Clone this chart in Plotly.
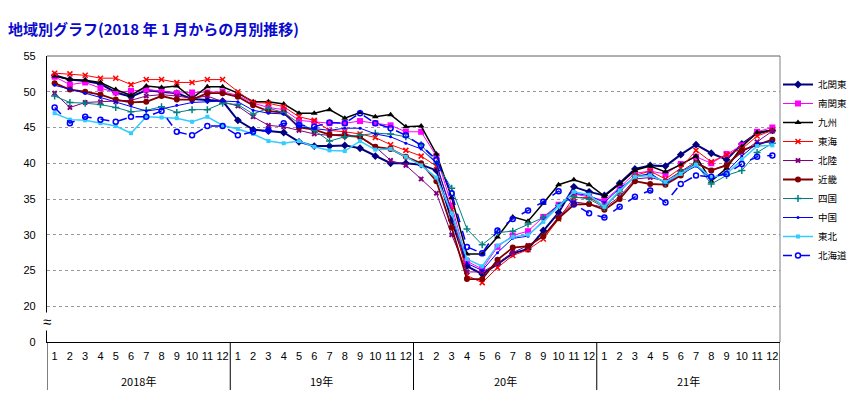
import plotly.graph_objects as go

months = [str(m) for m in range(1, 13)] * 4
year_labels = ["2018年", "19年", "20年", "21年"]
y_ticks = [15, 20, 25, 30, 35, 40, 45, 50, 55]
y_ticktext = ["0", "20", "25", "30", "35", "40", "45", "50", "55"]

kita_kanto = [52.3, 51.7, 51.5, 51.1, 49.9, 49.3, 50.2, 50.0, 49.8, 49.0, 48.8, 48.7,
              46.0, 44.7, 44.5, 44.3, 43.0, 42.4, 42.4, 42.5, 42.1, 41.0, 40.0, 40.0,
              39.8, 39.0, 32.0, 25.6, 24.5, 25.9, 27.4, 28.0, 30.6, 33.1, 36.7, 36.0,
              35.5, 37.2, 39.2, 39.7, 39.6, 41.2, 42.6, 41.4, 40.5, 42.7, 44.2, 44.6]
minami_kanto = [52.1, 51.0, 51.3, 50.5, 49.9, 50.1, 50.3, 50.1, 49.8, 49.9, 49.9, 50.0,
                49.5, 48.4, 47.8, 47.5, 46.0, 45.8, 45.6, 45.6, 45.9, 45.6, 45.3, 44.4,
                44.4, 41.0, 34.1, 26.3, 25.2, 28.3, 29.9, 30.5, 32.5, 34.2, 35.7, 35.3,
                34.8, 36.6, 38.6, 38.9, 38.5, 39.9, 40.9, 40.0, 41.3, 42.5, 44.4, 45.0]
kyushu = [52.2, 51.7, 51.6, 51.3, 50.3, 49.5, 50.8, 50.6, 50.8, 49.1, 50.7, 50.7,
          49.8, 48.6, 48.6, 48.3, 47.0, 47.0, 47.5, 46.3, 47.1, 46.5, 46.8, 45.1,
          45.2, 41.3, 35.2, 27.3, 27.3, 29.7, 32.5, 31.9, 34.4, 37.0, 37.7, 37.0,
          35.4, 37.1, 39.0, 39.6, 38.8, 39.8, 41.0, 37.5, 39.3, 42.3, 44.3, 44.6]
tokai = [52.6, 52.5, 52.3, 51.9, 51.9, 51.0, 51.7, 51.7, 51.3, 51.3, 51.7, 51.7,
         50.0, 48.5, 48.4, 47.9, 46.5, 46.0, 44.6, 44.4, 44.1, 43.6, 42.6, 41.8,
         41.0, 39.6, 33.5, 24.3, 23.3, 25.4, 27.1, 27.9, 29.4, 32.2, 35.2, 35.2,
         34.0, 36.0, 38.3, 38.9, 37.8, 39.3, 41.8, 40.2, 41.2, 42.0, 43.8, 44.6]
hokuriku = [49.8, 47.8, 48.5, 48.6, 48.6, 48.8, 49.4, 49.6, 49.4, 49.1, 49.4, 48.6,
            48.0, 46.5, 45.3, 45.1, 44.6, 44.1, 43.9, 44.1, 43.6, 42.3, 40.4, 39.7,
            37.8, 35.8, 30.0, 24.8, 24.8, 26.0, 27.5, 28.5, 29.8, 32.5, 34.6, 34.3,
            33.8, 35.3, 37.8, 38.0, 37.5, 38.8, 40.2, 39.0, 39.8, 41.5, 43.0, 44.5]
kinki = [51.2, 50.3, 50.0, 49.6, 48.9, 48.5, 48.6, 49.4, 48.9, 48.9, 49.8, 49.8,
         49.3, 48.1, 47.3, 47.1, 45.0, 44.7, 44.0, 43.8, 43.7, 42.3, 42.0, 40.9,
         40.0, 37.5, 31.0, 23.8, 23.8, 26.5, 28.2, 28.4, 29.8, 32.3, 34.2, 34.3,
         33.5, 35.0, 37.5, 37.1, 37.0, 38.3, 40.0, 39.0, 39.7, 41.8, 42.6, 43.3]
shikoku = [49.4, 48.5, 48.4, 48.2, 47.8, 47.2, 47.4, 47.9, 47.1, 47.5, 47.5, 48.4,
           48.2, 46.9, 47.7, 47.1, 45.6, 44.6, 43.1, 43.7, 43.9, 44.2, 44.1, 43.7,
           42.6, 40.0, 36.5, 30.8, 28.6, 30.3, 30.5, 31.5, 32.4, 34.1, 35.3, 35.0,
           33.8, 36.0, 38.2, 38.5, 37.2, 38.8, 39.9, 37.1, 38.3, 39.0, 41.5, 42.8]
chugoku = [50.9, 50.4, 49.8, 49.2, 48.6, 48.0, 47.3, 47.6, 48.1, 48.5, 48.6, 48.7,
           48.6, 47.4, 47.0, 46.9, 45.1, 44.9, 44.6, 44.9, 44.9, 44.1, 43.7, 42.8,
           42.0, 40.0, 33.0, 26.0, 25.0, 27.5, 29.5, 29.8, 32.0, 34.2, 35.8, 35.5,
           34.5, 36.5, 38.0, 38.6, 37.2, 38.5, 39.6, 37.8, 38.8, 41.0, 42.8, 43.0]
tohoku = [47.0, 46.1, 46.0, 45.6, 45.2, 44.2, 46.5, 46.4, 46.3, 45.8, 46.5, 45.3,
          44.8, 44.1, 43.1, 42.8, 43.1, 42.3, 41.8, 41.7, 43.1, 41.9, 42.0, 40.9,
          39.7, 38.0, 33.0, 26.6, 25.6, 28.5, 29.7, 30.0, 31.8, 34.0, 36.0, 35.6,
          33.9, 36.2, 38.1, 38.3, 37.4, 38.5, 39.8, 38.0, 38.5, 40.5, 42.4, 42.5]
hokkaido = [47.8, 45.6, 46.5, 46.1, 45.8, 46.5, 46.5, 47.3, 44.4, 43.9, 45.2, 45.2,
            43.9, 44.4, 44.6, 45.6, 45.3, 45.1, 45.7, 45.6, 47.0, 45.6, 44.9, 43.9,
            42.5, 40.5, 35.8, 28.3, 27.4, 30.6, 32.2, 33.4, 34.6, 36.1, 34.3, 33.0,
            32.4, 33.9, 35.3, 36.2, 34.5, 37.1, 38.3, 38.1, 38.5, 39.9, 40.9, 41.1]

x = list(range(1, len(months) + 1))

styles = [
    ("北関東", kita_kanto, "#000080", 2, "solid", "diamond", 6),
    ("南関東", minami_kanto, "#FF00FF", 1, "solid", "square", 6),
    ("九州", kyushu, "#000000", 1.5, "solid", "triangle-up", 6),
    ("東海", tokai, "#FF0000", 1, "solid", "x-thin", 5),
    ("北陸", hokuriku, "#800080", 1, "solid", "x", 5),
    ("近畿", kinki, "#800000", 1.8, "solid", "circle", 6),
    ("四国", shikoku, "#008080", 1, "solid", "cross-thin", 5),
    ("中国", chugoku, "#0000FF", 1, "solid", "circle", 3),
    ("東北", tohoku, "#33CCFF", 1.5, "solid", "square", 4),
    ("北海道", hokkaido, "#0000FF", 1.5, "dash", "circle-open", 5),
]

fig = go.Figure()
for name, vals, color, lw, dash, sym, ms in styles:
    fig.add_trace(go.Scatter(
        x=x, y=vals, name=name, mode="lines+markers",
        line=dict(color=color, width=lw, dash=dash),
        marker=dict(symbol=sym, size=ms, color=color,
                    line=dict(color=color, width=1.5 if sym in ("x-thin", "cross-thin", "circle-open") else 0)),
    ))

# year separators and labels below axis
for i in range(5):
    xv = 0.5 + 12 * i
    fig.add_shape(type="line", xref="x", yref="paper", x0=xv, x1=xv, y0=-0.168, y1=0,
                  line=dict(color="#000000", width=1))
for i, lab in enumerate(year_labels):
    fig.add_annotation(x=6.5 + 12 * i, xref="x", y=-0.137, yref="paper", text=lab,
                       showarrow=False, yanchor="middle",
                       font=dict(size=11, color="#000000", family="Noto Sans CJK JP"))

# frame: right and top borders
fig.add_shape(type="line", xref="paper", yref="paper", x0=1, x1=1, y0=0, y1=1,
              line=dict(color="#808080", width=1))
fig.add_shape(type="line", xref="paper", yref="paper", x0=0, x1=1, y0=1, y1=1,
              line=dict(color="#606060", width=1))

# axis break symbol
fig.add_annotation(x=0, xref="paper", y=17.8, yref="y", text="≈", showarrow=False,
                   font=dict(size=15, color="#000000"), bgcolor="#FFFFFF",
                   xanchor="center", yanchor="middle", borderpad=0)

fig.update_layout(
    width=847, height=395,
    margin=dict(l=47, r=67, t=56, b=53, autoexpand=False),
    paper_bgcolor="#FFFFFF", plot_bgcolor="#FFFFFF",
    font=dict(family="Liberation Sans, Noto Sans CJK JP", size=11, color="#000000"),
    title=dict(text="地域別グラフ(2018 年 1 月からの月別推移)", x=8 / 847, xref="container",
               xanchor="left", y=1 - 30 / 395, yref="container", yanchor="middle",
               font=dict(family="Noto Sans CJK JP", size=15, color="#0A0ACD", weight=700)),
    showlegend=True,
    legend=dict(x=778 / 847, xref="container", xanchor="left",
                y=1 - 70 / 395, yref="container", yanchor="top",
                font=dict(size=9.5, family="Noto Sans CJK JP", color="#000000"),
                bgcolor="rgba(0,0,0,0)", tracegroupgap=0),
    xaxis=dict(range=[0.5, 48.5], tickmode="array", tickvals=x, ticktext=months,
               showgrid=False, showline=True, linecolor="#000000", linewidth=1.3,
               ticks="", zeroline=False, tickfont=dict(size=11), ticklabelstandoff=4),
    yaxis=dict(range=[15, 55], tickmode="array", tickvals=y_ticks, ticktext=y_ticktext,
               showgrid=True, gridcolor="#999999", griddash="dot", gridwidth=1,
               showline=True, linecolor="#000000", linewidth=1.3, ticks="",
               zeroline=False, tickfont=dict(size=11), ticklabelstandoff=8),
)

fig.write_html("out.html", config={"displayModeBar": False},
               post_script="document.body.style.margin='0';")
